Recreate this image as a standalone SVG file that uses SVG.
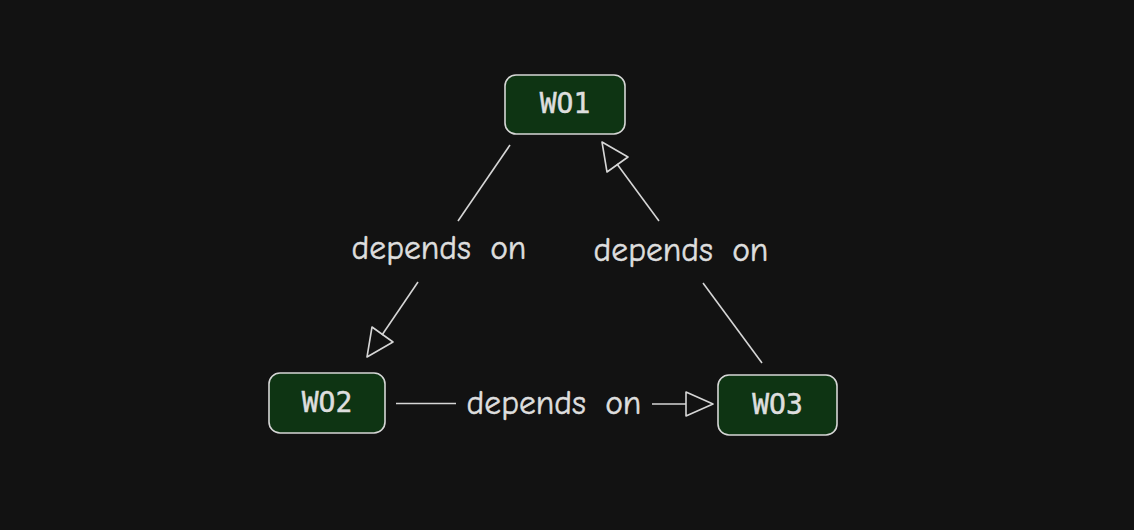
<svg xmlns="http://www.w3.org/2000/svg" width="1134" height="530" viewBox="0 0 1134 530">
<style>
.node rect{fill:#0e3413;stroke:#d6d6d6;stroke-width:1.6}
.node text{fill:#dedede;stroke:#dedede;stroke-width:0.5;font-family:"DejaVu Sans Mono","Liberation Mono",monospace;font-size:28px;text-anchor:middle}
.edge line{stroke:#d6d6d6;stroke-width:1.6;fill:none}
.edge polygon{stroke:#d6d6d6;stroke-width:1.6;fill:none;stroke-linejoin:round}
.lbl{fill:#dedede;stroke:#dedede;stroke-width:0.5;font-family:"Comic Neue","Open Sans","Liberation Sans",sans-serif;font-size:33.5px;text-anchor:middle;word-spacing:8px}
</style>
<rect width="1134" height="530" fill="#121212"/>
<g id="connectors" class="edge">
<line x1="510" y1="145" x2="458" y2="221"/>
<line x1="418" y1="282" x2="382" y2="335"/>
<polygon points="367,357 372,327 393,342"/>
<line x1="762" y1="363" x2="703" y2="283"/>
<line x1="659" y1="221" x2="617" y2="164"/>
<polygon points="602,142 628,157 607,172"/>
<line x1="396" y1="403.5" x2="456" y2="403.5"/>
<line x1="652" y1="404" x2="686" y2="404"/>
<polygon points="713,404 686,392 686,416"/>
<text class="lbl" x="439" y="259">depends on</text>
<text class="lbl" x="681" y="261">depends on</text>
<text class="lbl" x="554" y="414">depends on</text>
</g>
<g id="WO1" class="node">
<rect x="505" y="75" width="120" height="59" rx="11"/>
<text x="565" y="113">WO1</text>
</g>
<g id="WO2" class="node">
<rect x="269" y="373" width="116" height="60" rx="11"/>
<text x="327" y="412">WO2</text>
</g>
<g id="WO3" class="node">
<rect x="718" y="375" width="119" height="60" rx="11"/>
<text x="777.5" y="414">WO3</text>
</g>
</svg>
